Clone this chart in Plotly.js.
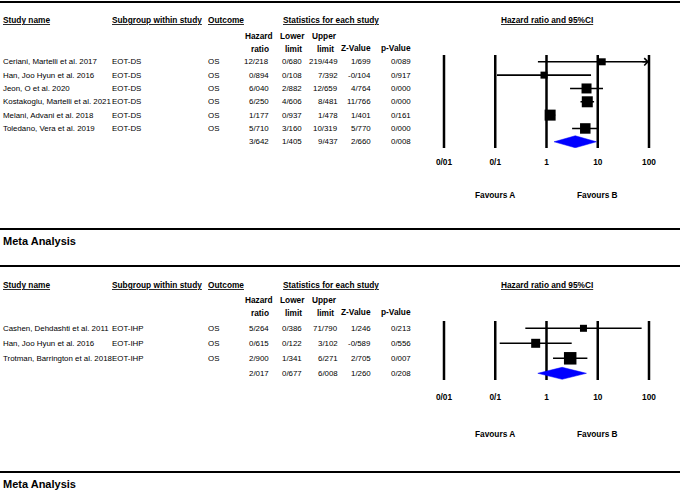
<!DOCTYPE html>
<html><head><meta charset="utf-8">
<script src="https://cdn.plot.ly/plotly-3.0.1.min.js"></script>
<style>html,body{margin:0;padding:0;background:#fff}</style>
</head><body><div id="chart" style="width:680px;height:493px"></div>
<script>
// ---------- DATA ----------
const studies1 = ["Ceriani, Martelli et al. 2017", "Han, Joo Hyun et al. 2016", "Jeon, O et al. 2020",
  "Kostakoglu, Martelli et al. 2021", "Melani, Advani et al. 2018", "Toledano, Vera et al. 2019"];
const subgroup1 = ["EOT-DS", "EOT-DS", "EOT-DS", "EOT-DS", "EOT-DS", "EOT-DS"];
const outcome1 = ["OS", "OS", "OS", "OS", "OS", "OS"];
const hr1 = [12.218, 0.894, 6.040, 6.250, 1.177, 5.710];
const lower1 = [0.680, 0.108, 2.882, 4.606, 0.937, 3.160];
const upper1 = [219.449, 7.392, 12.659, 8.481, 1.478, 10.319];
const z1 = [1.699, -0.104, 4.764, 11.766, 1.401, 5.770];
const p1 = [0.089, 0.917, 0.000, 0.000, 0.161, 0.000];
const pooled1 = [3.642, 1.405, 9.437, 2.660, 0.008]; // HR, lower, upper, Z, p

const studies2 = ["Cashen, Dehdashti et al. 2011", "Han, Joo Hyun et al. 2016", "Trotman, Barrington et al. 2018"];
const subgroup2 = ["EOT-IHP", "EOT-IHP", "EOT-IHP"];
const outcome2 = ["OS", "OS", "OS"];
const hr2 = [5.264, 0.615, 2.900];
const lower2 = [0.386, 0.122, 1.341];
const upper2 = [71.790, 3.102, 6.271];
const z2 = [1.246, -0.589, 2.705];
const p2 = [0.213, 0.556, 0.007];
const pooled2 = [2.017, 0.677, 6.008, 1.260, 0.208];

const tickVals = [0.01, 0.1, 1, 10, 100];
const tickText = ["0/01", "0/1", "1", "10", "100"];
const favourLabels = ["Favours A", "Favours B"];
const favourAt = [0.1, 10];
const sectionTitle = "Meta Analysis";

// ---------- STYLE ----------
const boxSizes1 = [7, 7, 10, 11, 11, 10.5];
const boxSizes2 = [7, 9, 12.5];
const W = 680, H = 493;
const FONT = "Liberation Sans, Arial, Helvetica, sans-serif";
const BODY = 7.9, HEAD = 8.3;
const pxPerDecade = 51.25, xAt001 = 444;
const xr = [-2.05, 2.05];
const xDomain = [(xAt001 + (xr[0] + 2) * pxPerDecade) / W, (xAt001 + (xr[1] + 2) * pxPerDecade) / W];
const fmt = v => v.toFixed(3).replace('.', '/');
const px = x => x / W, py = y => 1 - y / H;

const panels = [
  {studies: studies1, sub: subgroup1, out: outcome1, hr: hr1, lo: lower1, up: upper1, z: z1, p: p1, pooled: pooled1,
   sizes: boxSizes1, xa: 'x', ya: 'y', xk: 'xaxis', yk: 'yaxis',
   top: 55, bot: 148, row0: 61.8, step: 13.33, hdr: [20, 36, 49, 48], standoff: 8, favY: 195},
  {studies: studies2, sub: subgroup2, out: outcome2, hr: hr2, lo: lower2, up: upper2, z: z2, p: p2, pooled: pooled2,
   sizes: boxSizes2, xa: 'x2', ya: 'y2', xk: 'xaxis2', yk: 'yaxis2',
   top: 321, bot: 380, row0: 328.3, step: 15, hdr: [285, 300, 313, 312], standoff: 11, favY: 434}
];
const rules = [2, 229, 266, 472];
const titleY = [241, 484];

const traces = [], annotations = [], shapes = [];
const layout = {
  width: W, height: H, margin: {l: 0, r: 0, t: 0, b: 0},
  paper_bgcolor: '#fff', plot_bgcolor: 'rgba(0,0,0,0)', showlegend: false,
  font: {family: FONT, size: BODY, color: '#000'}
};

const lx = Math.pow(10, xr[0]);
const maxVal = tickVals[tickVals.length - 1];

panels.forEach((P, k) => {
  const n = P.studies.length;
  const yRange = [(P.bot - P.row0) / P.step, (P.top - P.row0) / P.step];
  layout[P.xk] = {
    type: 'log', range: xr, domain: xDomain, anchor: P.ya,
    tickmode: 'array', tickvals: tickVals, ticktext: tickText, ticks: '',
    showgrid: false, zeroline: false, showline: false, fixedrange: true,
    ticklabelstandoff: P.standoff,
    tickfont: {family: FONT, size: HEAD, color: '#000', weight: 'bold'}
  };
  layout[P.yk] = {
    domain: [py(P.bot), py(P.top)], range: yRange, anchor: P.xa,
    visible: false, fixedrange: true
  };
  // vertical reference lines at each tick
  tickVals.forEach(v => shapes.push({
    type: 'line', xref: P.xa, yref: P.ya + ' domain', x0: v, x1: v, y0: 0, y1: 1,
    line: {color: '#000', width: 2.5}, layer: 'below'
  }));
  // whiskers
  const wx = [], wy = [];
  for (let i = 0; i < n; i++) {
    wx.push(Math.max(P.lo[i], lx), Math.min(P.up[i], maxVal), null);
    wy.push(i, i, null);
  }
  traces.push({type: 'scatter', mode: 'lines', x: wx, y: wy, xaxis: P.xa, yaxis: P.ya,
    line: {color: '#000', width: 1.6}, hoverinfo: 'skip', cliponaxis: false});
  // arrows for CIs beyond the axis
  for (let i = 0; i < n; i++) {
    if (P.up[i] > maxVal) {
      annotations.push({xref: P.xa, yref: P.ya, x: Math.log10(maxVal), y: i, text: '',
        showarrow: true, ax: -8, ay: 0, arrowhead: 4, arrowsize: 1, arrowwidth: 1.4,
        arrowcolor: '#000', standoff: 0});
    }
  }
  // study boxes
  traces.push({type: 'scatter', mode: 'markers', x: P.hr, y: P.studies.map((s, i) => i),
    xaxis: P.xa, yaxis: P.ya, cliponaxis: false,
    marker: {symbol: 'square', size: P.sizes, color: '#000', opacity: 1, line: {width: 0}}, hoverinfo: 'skip'});
  // pooled diamond
  const h = 6 / P.step;
  traces.push({type: 'scatter', mode: 'lines', fill: 'toself', xaxis: P.xa, yaxis: P.ya,
    x: [P.pooled[1], P.pooled[0], P.pooled[2], P.pooled[0], P.pooled[1]],
    y: [n, n - h, n, n + h, n], fillcolor: '#0000ff', line: {color: '#0000ff', width: 0.5},
    hoverinfo: 'skip'});

  // ---- table text ----
  const ann = (x, y, text, xanchor, opts) => Object.assign({
    xref: 'paper', yref: 'paper', x: px(x), y: py(y), text: text, showarrow: false,
    xanchor: xanchor, yanchor: 'middle', borderpad: 0,
    font: {family: FONT, size: BODY, color: '#000'}
  }, opts || {});
  const bold = {font: {family: FONT, size: HEAD, color: '#000', weight: 'bold'}};
  // headers
  annotations.push(ann(2, P.hdr[0], '<u>Study name</u>', 'left', bold));
  annotations.push(ann(111, P.hdr[0], '<u>Subgroup within study</u>', 'left', bold));
  annotations.push(ann(207, P.hdr[0], '<u>Outcome</u>', 'left', bold));
  annotations.push(ann(282, P.hdr[0], '<u>Statistics for each study</u>', 'left', bold));
  annotations.push(ann(547, P.hdr[0], '<u>Hazard ratio and 95%CI</u>', 'center', bold));
  annotations.push(ann(259, P.hdr[1], 'Hazard', 'center', bold));
  annotations.push(ann(260, P.hdr[2], 'ratio', 'center', bold));
  annotations.push(ann(292, P.hdr[1], 'Lower', 'center', bold));
  annotations.push(ann(293, P.hdr[2], 'limit', 'center', bold));
  annotations.push(ann(324, P.hdr[1], 'Upper', 'center', bold));
  annotations.push(ann(325, P.hdr[2], 'limit', 'center', bold));
  annotations.push(ann(372, P.hdr[3], 'Z-Value', 'right', bold));
  annotations.push(ann(412, P.hdr[3], 'p-Value', 'right', bold));
  // rows
  const rowAnn = (x, i, text, xanchor) => ({
    xref: 'paper', yref: P.ya, x: px(x), y: i, text: text, showarrow: false,
    xanchor: xanchor, yanchor: 'middle', borderpad: 0,
    font: {family: FONT, size: BODY, color: '#000'}
  });
  for (let i = 0; i < n; i++) {
    annotations.push(rowAnn(2, i, P.studies[i], 'left'));
    annotations.push(rowAnn(111, i, P.sub[i], 'left'));
    annotations.push(rowAnn(207, i, P.out[i], 'left'));
    annotations.push(rowAnn(270, i, fmt(P.hr[i]), 'right'));
    annotations.push(rowAnn(303, i, fmt(P.lo[i]), 'right'));
    annotations.push(rowAnn(339, i, fmt(P.up[i]), 'right'));
    annotations.push(rowAnn(372, i, fmt(P.z[i]), 'right'));
    annotations.push(rowAnn(412, i, fmt(P.p[i]), 'right'));
  }
  [270, 303, 339, 372, 412].forEach((x, j) => annotations.push(rowAnn(x, n, fmt(P.pooled[j]), 'right')));
  // favours labels
  favourLabels.forEach((t, j) => annotations.push({
    xref: P.xa, yref: 'paper', x: Math.log10(favourAt[j]), y: py(P.favY), text: t, showarrow: false,
    xanchor: 'center', yanchor: 'middle', borderpad: 0,
    font: {family: FONT, size: HEAD, color: '#000', weight: 'bold'}
  }));
});

rules.forEach(y => shapes.push({type: 'line', xref: 'paper', yref: 'paper', x0: 0, x1: 1, y0: py(y), y1: py(y),
  line: {color: '#000', width: 2}}));
titleY.forEach(y => annotations.push({xref: 'paper', yref: 'paper', x: px(2), y: py(y), text: sectionTitle,
  showarrow: false, xanchor: 'left', yanchor: 'middle', borderpad: 0,
  font: {family: FONT, size: 11, color: '#000', weight: 'bold'}}));

layout.annotations = annotations;
layout.shapes = shapes;
Plotly.newPlot('chart', traces, layout, {staticPlot: true, displayModeBar: false});
</script></body></html>
